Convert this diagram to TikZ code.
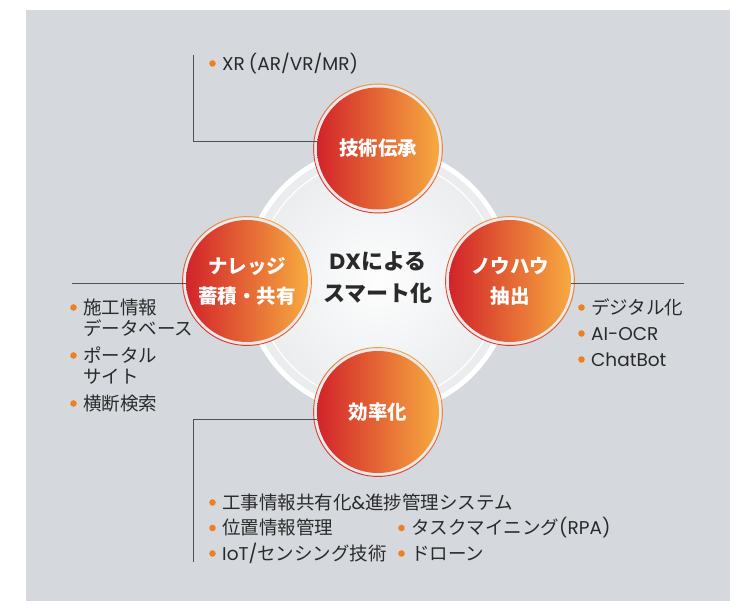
\documentclass[tikz,border=0pt]{standalone}
\usepackage{fontspec}
\newfontfamily\jp{Noto Sans CJK JP}
\newfontfamily\latf{Poppins}
\newcommand\lat[1]{{\latf #1}}
\usetikzlibrary{calc}
\definecolor{bgc}{HTML}{D5D9DD}
\definecolor{txt}{HTML}{2A2A2A}
\definecolor{conn}{HTML}{505050}
\definecolor{bulc}{HTML}{F07F22}
\definecolor{gradL}{HTML}{D2232A}
\definecolor{gradR}{HTML}{F7AA40}
\definecolor{ringO}{HTML}{F4A040}
\definecolor{ringR}{HTML}{E0302C}
\definecolor{gapc}{HTML}{E9EAEB}
\pgfdeclareradialshading{glow}{\pgfpoint{0bp}{0bp}}{color(0bp)=(white!96!bgc); color(50bp)=(bgc)}
\tikzset{
  bub/.style={circle, minimum size=122pt, inner sep=0pt, left color=gradL, right color=gradR,
    text=white, font=\jp\bfseries\fontsize{19.5}{30}\selectfont, align=center},
  ctr/.style={inner sep=0pt, text=txt, font=\jp\bfseries\fontsize{22}{32}\selectfont, align=center},
  lst/.style={anchor=base west, inner sep=0pt, text=txt, font=\jp\fontsize{18.5}{20}\selectfont},
  connline/.style={draw=conn, line width=1pt},
  bul/.style={fill=bulc},
  ringline/.style={top color=ringO, bottom color=ringR, shading angle=-30, even odd rule}
}
\newcommand\mybul[1]{\fill[bul] ([shift={(-9.5,-6.5)}]#1.base west) circle (3.3pt);}
\begin{document}
\begin{tikzpicture}[x=1pt,y=-1pt]
\useasboundingbox (0,0) rectangle (742,603);
\fill[white] (0,0) rectangle (742,603);
\fill[bgc] (26,10) rectangle (730,601);

\coordinate (C) at (378,280.5);
\shade[shading=glow] (C) circle (131pt);
\draw[white, line width=5pt] (C) circle (132.5pt);
\draw[white, line width=1.2pt] (C) circle (121.5pt);

% bubble backgrounds
\coordinate (pT) at (378,148.5);
\coordinate (pB) at (378,412);
\coordinate (pL) at (247,281);
\coordinate (pR) at (510,281);
\foreach \p in {pT,pB,pL,pR}{
  \fill[gapc] (\p) circle (63.6pt);
  \shade[ringline] (\p) circle (64.9pt) (\p) circle (64.0pt);
}

\node[bub] (tc) at (pT) {技術伝承};
\node[bub] (ef) at (pB) {効率化};
\node[bub] (kn) at (pL) {ナレッジ\\蓄積・共有};
\node[bub] (kh) at (pR) {ノウハウ\\抽出};
\node[ctr] (dx) at (378,278) {\lat{DX}による\\スマート化};

% connectors
\coordinate (tEnd) at (193,55);
\coordinate (bEnd) at (193,562);
\coordinate (lEnd) at (72,0);
\coordinate (rEnd) at (684,0);
\draw[connline] (tEnd) |- (tc.173);
\draw[connline] (ef.187) -| (bEnd);
\draw[connline] (kn.182) -- (kn.182 -| lEnd);
\draw[connline] (kh.-2) -- (kh.-2 -| rEnd);

% top list
\node[lst] (xr) at (222,70) {\lat{XR\hspace{4pt}(AR/VR/MR)}};
\mybul{xr}

% left list
\node[lst] (l1) at (83,314) {施工情報};
\node[lst] (l1b) at (83,335) {データベース};
\node[lst] (l2) at (83,362) {ポータル};
\node[lst] (l2b) at (83,383) {サイト};
\node[lst] (l3) at (83,410) {横断検索};
\mybul{l1}\mybul{l2}\mybul{l3}

% right list
\node[lst] (r1) at (591,314) {デジタル化};
\node[lst] (r2) at (591,340) {\lat{AI-OCR}};
\node[lst] (r3) at (591,366) {\lat{ChatBot}};
\mybul{r1}\mybul{r2}\mybul{r3}

% bottom list
\node[lst] (b1) at (222,509) {工事情報共有化\lat{\&}進捗管理システム};
\node[lst] (b2) at (222,534.5) {位置情報管理};
\node[lst] (b3) at (222,560) {\lat{IoT/}センシング技術};
\node[lst] (b4) at (411,534.5) {タスクマイニング\lat{(RPA)}};
\node[lst] (b5) at (411,560) {ドローン};
\mybul{b1}\mybul{b2}\mybul{b3}\mybul{b4}\mybul{b5}
\end{tikzpicture}
\end{document}
